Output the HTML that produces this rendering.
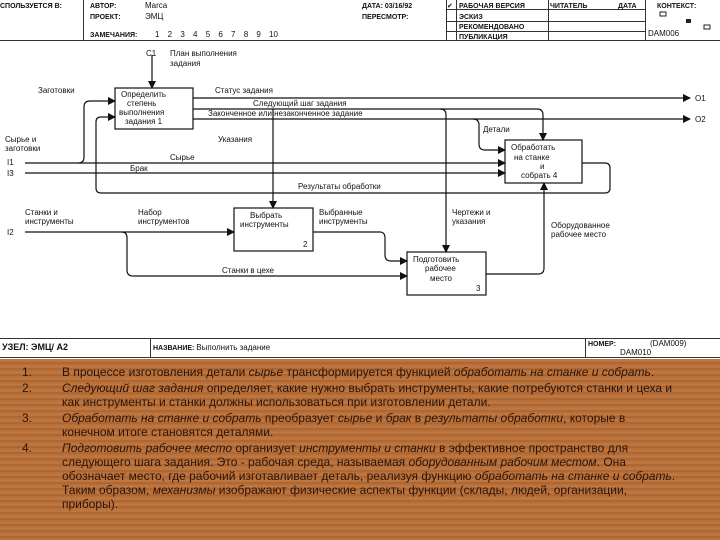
<!DOCTYPE html>
<html><head><meta charset="utf-8"><style>
html,body{margin:0;padding:0;width:720px;height:540px;overflow:hidden;background:#fff}
svg{display:block}
text{font-family:"Liberation Sans","DejaVu Sans",sans-serif;fill:#111}
.s{font-size:8px}
.h{font-size:7px;font-weight:bold}
#wood{position:absolute;left:0;top:359px;width:720px;height:181px;background:repeating-linear-gradient(180deg,#b86f3a 0px,#c27a44 2px,#a9622f 4px,#bb743d 6px);}
#txt{position:absolute;left:0;top:365px;width:720px;font-family:"Liberation Sans","DejaVu Sans",sans-serif;font-size:12px;line-height:14px;color:#2a1408;}
.it{display:flex;margin-bottom:2px}
.n{width:62px;padding-left:22px;box-sizing:border-box}
.b{width:618px}
i{font-style:italic}
</style></head><body>
<svg width="720" height="360" viewBox="0 0 720 360">
<defs><marker id="a" markerWidth="8" markerHeight="8" refX="7" refY="4" orient="auto" markerUnits="userSpaceOnUse"><path d="M0,0 L8,4 L0,8z" fill="#111"/></marker></defs>
<g stroke="#333" stroke-width="1" fill="none">
<line x1="0" y1="40.5" x2="720" y2="40.5"/>
<line x1="83.5" y1="0" x2="83.5" y2="40"/>
<line x1="446.5" y1="0" x2="446.5" y2="40"/>
<line x1="456.5" y1="0" x2="456.5" y2="40"/>
<line x1="548.5" y1="0" x2="548.5" y2="40"/>
<line x1="645.5" y1="0" x2="645.5" y2="40"/>
<line x1="446" y1="9.5" x2="645" y2="9.5"/>
<line x1="446" y1="21.5" x2="645" y2="21.5"/>
<line x1="446" y1="31.5" x2="645" y2="31.5"/>
<line x1="0" y1="338.5" x2="720" y2="338.5"/>
<line x1="0" y1="357.5" x2="720" y2="357.5"/>
<line x1="150.5" y1="338" x2="150.5" y2="357"/>
<line x1="585.5" y1="338" x2="585.5" y2="357"/>
</g>
<rect x="660" y="12" width="6" height="4" fill="none" stroke="#222"/>
<rect x="686" y="19" width="5" height="4" fill="#222"/>
<rect x="704" y="25" width="6" height="4" fill="none" stroke="#222"/>
<text class="h" x="0" y="8">СПОЛЬЗУЕТСЯ В:</text>
<text class="h" x="90" y="8">АВТОР:</text><text class="s" x="145" y="8">Marca</text>
<text class="h" x="90" y="19">ПРОЕКТ:</text><text class="s" x="145" y="19">ЭМЦ</text>
<text class="h" x="90" y="37">ЗАМЕЧАНИЯ:</text><text class="s" x="155" y="37" word-spacing="6">1 2 3 4 5 6 7 8 9 10</text>
<text class="h" x="362" y="8">ДАТА: 03/16/92</text>
<text class="h" x="362" y="19">ПЕРЕСМОТР:</text>
<text class="h" x="447" y="8">✔</text>
<text class="h" x="459" y="8">РАБОЧАЯ ВЕРСИЯ</text>
<text class="h" x="459" y="19">ЭСКИЗ</text>
<text class="h" x="459" y="29">РЕКОМЕНДОВАНО</text>
<text class="h" x="459" y="39">ПУБЛИКАЦИЯ</text>
<text class="h" x="550" y="8">ЧИТАТЕЛЬ</text>
<text class="h" x="618" y="8">ДАТА</text>
<text class="h" x="657" y="8">КОНТЕКСТ:</text>
<text class="s" x="648" y="36">DAM006</text>
<text class="h" x="2" y="350" style="font-size:9px">УЗЕЛ: ЭМЦ/ А2</text>
<text class="h" x="153" y="350">НАЗВАНИЕ: <tspan style="font-weight:normal;font-size:8px">Выполнить задание</tspan></text>
<text class="h" x="588" y="346">НОМЕР:</text><text class="s" x="650" y="346">(DAM009)</text><text class="s" x="620" y="355">DAM010</text>
<g stroke="#111" stroke-width="1.2" fill="none">
<rect x="115" y="88" width="78" height="41"/>
<rect x="505" y="140" width="77" height="43"/>
<rect x="234" y="208" width="79" height="43"/>
<rect x="407" y="252" width="79" height="43"/>
<line x1="152" y1="55" x2="152" y2="88" marker-end="url(#a)"/>
<line x1="193" y1="98" x2="690" y2="98" marker-end="url(#a)"/>
<line x1="193" y1="119" x2="690" y2="119" marker-end="url(#a)"/>
<path d="M193,109 H537 Q543,109 543,115 V140" marker-end="url(#a)"/>
<path d="M273,109 V208" marker-end="url(#a)"/>
<path d="M440,109 Q446,109 446,115 V252" marker-end="url(#a)"/>
<path d="M473,119 Q479,119 479,125 V144 Q479,150 485,150 H505" marker-end="url(#a)"/>
<path d="M25,163 H505" marker-end="url(#a)"/>
<path d="M25,173 H505" marker-end="url(#a)"/>
<path d="M78,163 Q84,163 84,157 V107 Q84,101 90,101 H115" marker-end="url(#a)"/>
<path d="M582,163 H605 Q610,163 610,168 V188 Q610,193 605,193 H101 Q96,193 96,188 V122 Q96,117 101,117 H115" marker-end="url(#a)"/>
<path d="M25,232 H234" marker-end="url(#a)"/>
<path d="M122,232 Q127,232 127,238 V270 Q127,276 133,276 H407" marker-end="url(#a)"/>
<path d="M313,232 H380 Q385,232 385,238 V255 Q385,261 391,261 H407" marker-end="url(#a)"/>
<path d="M486,274 H538 Q544,274 544,268 V183" marker-end="url(#a)"/>
</g>
<g class="s">
<text x="146" y="56">C1</text><text x="170" y="56">План выполнения</text><text x="170" y="66">задания</text>
<text x="38" y="93">Заготовки</text>
<text x="121" y="97">Определить</text><text x="127" y="106">степень</text><text x="119" y="115">выполнения</text><text x="125" y="124">задания  1</text>
<text x="215" y="93">Статус задания</text>
<text x="253" y="106">Следующий шаг задания</text>
<text x="208" y="116">Законченное или незаконченное задание</text>
<text x="218" y="142">Указания</text>
<text x="5" y="142">Сырье и</text><text x="5" y="151">заготовки</text>
<text x="7" y="165">I1</text><text x="7" y="176">I3</text>
<text x="170" y="160">Сырье</text>
<text x="130" y="171">Брак</text>
<text x="298" y="189">Результаты обработки</text>
<text x="483" y="132">Детали</text>
<text x="511" y="150">Обработать</text><text x="514" y="160">на станке</text><text x="540" y="169">и</text><text x="521" y="178">собрать  4</text>
<text x="695" y="101">O1</text><text x="695" y="122">O2</text>
<text x="25" y="215">Станки и</text><text x="25" y="224">инструменты</text>
<text x="7" y="235">I2</text>
<text x="138" y="215">Набор</text><text x="138" y="224">инструментов</text>
<text x="250" y="218">Выбрать</text><text x="240" y="227">инструменты</text><text x="303" y="247">2</text>
<text x="319" y="215">Выбранные</text><text x="319" y="224">инструменты</text>
<text x="452" y="215">Чертежи и</text><text x="452" y="224">указания</text>
<text x="551" y="228">Оборудованное</text><text x="551" y="237">рабочее место</text>
<text x="413" y="262">Подготовить</text><text x="425" y="271">рабочее</text><text x="430" y="281">место</text><text x="476" y="291">3</text>
<text x="222" y="273">Станки в цехе</text>
</g>
</svg>
<div id="wood"></div>
<div id="txt">
<div class="it"><div class="n">1.</div><div class="b">В процессе изготовления детали <i>сырье</i> трансформируется функцией <i>обработать на станке и собрать</i>.</div></div>
<div class="it"><div class="n">2.</div><div class="b"><i>Следующий шаг задания</i> определяет, какие нужно выбрать инструменты, какие потребуются станки и цеха и как инструменты и станки должны использоваться при изготовлении детали.</div></div>
<div class="it"><div class="n">3.</div><div class="b"><i>Обработать на станке и собрать</i> преобразует <i>сырье</i> и <i>брак</i> в <i>результаты обработки</i>, которые в конечном итоге становятся деталями.</div></div>
<div class="it"><div class="n">4.</div><div class="b"><i>Подготовить рабочее место</i> организует <i>инструменты и станки</i> в эффективное пространство для следующего шага задания. Это - рабочая среда, называемая <i>оборудованным рабочим местом</i>. Она обозначает место, где рабочий изготавливает деталь, реализуя функцию <i>обработать на станке и собрать</i>. Таким образом, <i>механизмы</i> изображают физические аспекты функции (склады, людей, организации, приборы).</div></div>
</div>
</body></html>
